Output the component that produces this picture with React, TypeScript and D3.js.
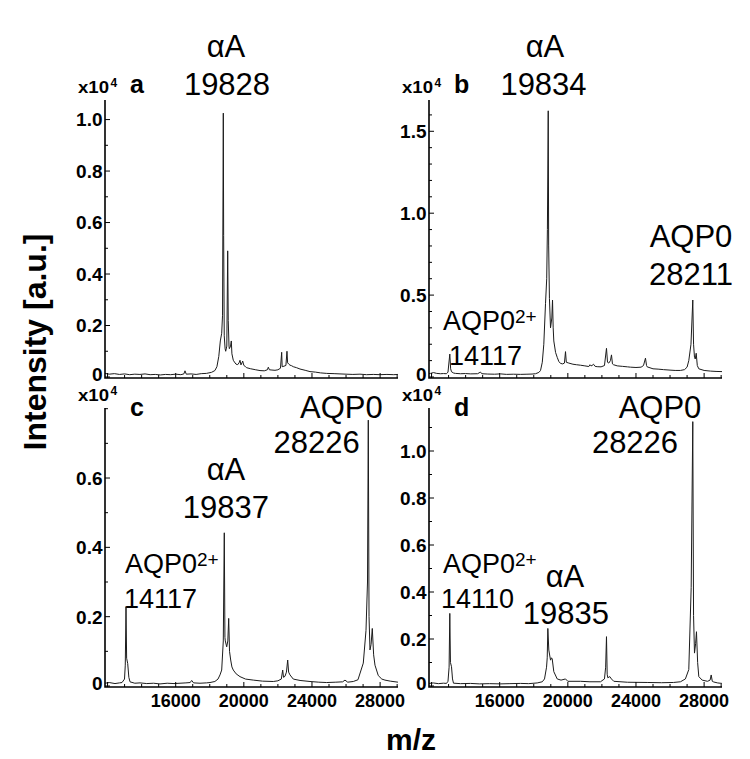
import React, { useEffect, useRef } from "react";
import * as d3 from "d3";

type Pt = [number, number];

// spectra: [m/z, intensity in units of 1e4]
const spectrumA: Pt[] = [
  [11850, 0.014], [12100, 0.011], [12400, 0.013], [12700, 0.010], [13000, 0.012], [13300, 0.009],
  [13600, 0.011], [13900, 0.010], [14200, 0.012], [14500, 0.009], [14800, 0.010], [15100, 0.008],
  [15400, 0.010], [15700, 0.009], [16000, 0.011], [16300, 0.009], [16480, 0.012], [16546, 0.024],
  [16620, 0.011], [16900, 0.012], [17200, 0.010], [17500, 0.013], [17800, 0.014], [18100, 0.018],
  [18300, 0.025], [18420, 0.04], [18530, 0.08], [18620, 0.14], [18700, 0.17], [18750, 0.24],
  [18795, 1.025], [18815, 0.55], [18850, 0.16], [18900, 0.11], [18935, 0.10], [19000, 0.12],
  [19053, 0.49], [19085, 0.22], [19130, 0.12], [19150, 0.11], [19220, 0.12], [19264, 0.14],
  [19300, 0.09], [19381, 0.065], [19450, 0.058], [19540, 0.05], [19640, 0.048], [19720, 0.055],
  [19775, 0.065], [19830, 0.047], [19890, 0.055], [19933, 0.062], [20000, 0.045], [20100, 0.04],
  [20168, 0.036], [20400, 0.032], [20700, 0.028], [20950, 0.025], [21200, 0.024], [21380, 0.028],
  [21437, 0.038], [21500, 0.028], [21650, 0.027], [21829, 0.026], [22000, 0.028], [22150, 0.034],
  [22222, 0.096], [22250, 0.04], [22357, 0.042], [22470, 0.045], [22533, 0.10], [22570, 0.055],
  [22640, 0.05], [22710, 0.046], [22800, 0.044], [22903, 0.04], [23100, 0.036], [23297, 0.031],
  [23600, 0.026], [23884, 0.021], [24200, 0.019], [24500, 0.016], [24864, 0.014], [25300, 0.013],
  [25645, 0.012], [26000, 0.011], [26400, 0.010], [26819, 0.011], [27200, 0.009], [27600, 0.010],
  [27993, 0.009], [28400, 0.010], [28800, 0.009], [29049, 0.010],
];

const spectrumB: Pt[] = [
  [11850, 0.02], [11938, 0.022], [12114, 0.027], [12300, 0.022], [12525, 0.02], [12700, 0.021],
  [12877, 0.02], [12965, 0.03], [13071, 0.14], [13120, 0.05], [13171, 0.032], [13300, 0.024],
  [13406, 0.022], [13700, 0.02], [13993, 0.021], [14300, 0.019], [14700, 0.02], [14873, 0.03],
  [14950, 0.02], [15300, 0.018], [15700, 0.017], [16047, 0.019], [16400, 0.016], [16800, 0.017],
  [17221, 0.016], [17600, 0.017], [17900, 0.018], [18104, 0.02], [18300, 0.028], [18398, 0.04],
  [18500, 0.09], [18589, 0.2], [18690, 0.45], [18760, 0.6], [18800, 0.9], [18849, 1.625],
  [18875, 0.8], [18920, 0.48], [18984, 0.30], [19060, 0.36], [19101, 0.47], [19140, 0.3],
  [19176, 0.22], [19280, 0.15], [19376, 0.12], [19470, 0.095], [19569, 0.083], [19700, 0.08],
  [19800, 0.085], [19863, 0.155], [19910, 0.09], [20056, 0.085], [20300, 0.078], [20500, 0.075],
  [20743, 0.072], [21000, 0.068], [21231, 0.064], [21300, 0.075], [21359, 0.068], [21420, 0.07],
  [21506, 0.078], [21600, 0.065], [21723, 0.063], [21950, 0.062], [22150, 0.07], [22269, 0.175],
  [22330, 0.09], [22404, 0.085], [22500, 0.1], [22563, 0.135], [22620, 0.08], [22680, 0.075],
  [22900, 0.068], [23200, 0.065], [23500, 0.062], [23678, 0.06], [24000, 0.058], [24300, 0.06],
  [24441, 0.07], [24558, 0.115], [24620, 0.07], [24658, 0.062], [25000, 0.05], [25300, 0.048],
  [25615, 0.045], [26000, 0.042], [26300, 0.04], [26613, 0.04], [26850, 0.045], [27000, 0.06],
  [27100, 0.1], [27229, 0.2], [27335, 0.47], [27380, 0.2], [27435, 0.12], [27480, 0.11],
  [27535, 0.145], [27600, 0.07], [27688, 0.05], [28000, 0.04], [28375, 0.036], [28700, 0.034],
  [29050, 0.033],
];

const spectrumC: Pt[] = [
  [11850, 0.008], [12100, 0.01], [12437, 0.007], [12700, 0.009], [12848, 0.01], [12995, 0.02],
  [13040, 0.06], [13083, 0.229], [13120, 0.08], [13182, 0.065], [13250, 0.025], [13318, 0.012],
  [13600, 0.008], [13905, 0.009], [14300, 0.007], [14700, 0.008], [15079, 0.006], [15500, 0.008],
  [15900, 0.007], [16253, 0.008], [16600, 0.009], [16850, 0.01], [16939, 0.016], [17050, 0.009],
  [17427, 0.008], [17800, 0.009], [18014, 0.01], [18300, 0.013], [18483, 0.02], [18600, 0.032],
  [18700, 0.046], [18794, 0.13], [18853, 0.442], [18890, 0.14], [18912, 0.13], [18994, 0.113],
  [19060, 0.13], [19111, 0.195], [19160, 0.1], [19229, 0.075], [19300, 0.055], [19381, 0.046],
  [19550, 0.035], [19775, 0.027], [20100, 0.02], [20555, 0.017], [21100, 0.014], [21729, 0.013],
  [22000, 0.015], [22200, 0.02], [22281, 0.046], [22330, 0.025], [22416, 0.028], [22500, 0.04],
  [22575, 0.075], [22630, 0.04], [22710, 0.032], [22903, 0.02], [23300, 0.016], [23884, 0.013],
  [24400, 0.011], [24864, 0.01], [25400, 0.011], [25800, 0.012], [25938, 0.017], [26100, 0.011],
  [26425, 0.013], [26700, 0.018], [27012, 0.066], [27171, 0.16], [27260, 0.3], [27306, 0.767],
  [27350, 0.2], [27406, 0.104], [27470, 0.12], [27541, 0.166], [27620, 0.09], [27699, 0.06],
  [27893, 0.03], [28100, 0.02], [28285, 0.017], [28600, 0.014], [29049, 0.011],
];

const spectrumD: Pt[] = [
  [11850, 0.011], [12100, 0.013], [12400, 0.01], [12700, 0.012], [12877, 0.011], [12965, 0.02],
  [13030, 0.08], [13071, 0.309], [13110, 0.1], [13171, 0.082], [13230, 0.03], [13288, 0.012],
  [13700, 0.01], [14286, 0.011], [14800, 0.009], [15400, 0.01], [16047, 0.009], [16600, 0.01],
  [17221, 0.011], [17700, 0.01], [18200, 0.013], [18500, 0.018], [18631, 0.03], [18750, 0.08],
  [18790, 0.12], [18826, 0.245], [18884, 0.153], [18984, 0.11], [19040, 0.12], [19084, 0.115],
  [19176, 0.061], [19376, 0.03], [19600, 0.025], [19863, 0.03], [20000, 0.02], [20743, 0.02],
  [21300, 0.018], [21917, 0.018], [22150, 0.03], [22220, 0.08], [22269, 0.21], [22310, 0.05],
  [22346, 0.035], [22463, 0.04], [22560, 0.03], [22698, 0.02], [23500, 0.016], [24658, 0.015],
  [25500, 0.014], [26200, 0.015], [26613, 0.018], [26900, 0.03], [27100, 0.07], [27241, 0.42],
  [27335, 1.125], [27380, 0.3], [27435, 0.14], [27500, 0.18], [27552, 0.231], [27620, 0.1],
  [27688, 0.04], [27887, 0.025], [28200, 0.02], [28350, 0.025], [28416, 0.047], [28480, 0.02],
  [28569, 0.017], [28800, 0.013], [29049, 0.011],
];

const xTickLabels = [16000, 20000, 24000, 28000];
const yTicksA = [0, 0.2, 0.4, 0.6, 0.8, 1.0];
const yTicksB = [0, 0.5, 1.0, 1.5];
const yTicksC = [0, 0.2, 0.4, 0.6];
const yTicksD = [0, 0.2, 0.4, 0.6, 0.8, 1.0];

const peakTextA = ["αA", "19828"];
const peakTextB = ["αA", "19834", "AQP0", "28211", "AQP0", "14117"];
const peakTextC = ["AQP0", "28226", "αA", "19837", "AQP0", "14117"];
const peakTextD = ["AQP0", "28226", "AQP0", "14110", "αA", "19835"];

const mzDomain = [11850, 29050];
const FONT = "'Liberation Sans', Arial, Helvetica, sans-serif";

type Lbl = { x: number; y: number; anchor?: string; size?: number; sup?: string };

const panels = [
  {
    letter: "a", data: spectrumA, yTicks: yTicksA, yMax: 1.076, texts: peakTextA,
    left: 105, right: 398, top: 100, bottom: 378, showX: false,
    labels: [{ x: 226, y: 57 }, { x: 227, y: 95 }] as Lbl[],
  },
  {
    letter: "b", data: spectrumB, yTicks: yTicksB, yMax: 1.691, texts: peakTextB,
    left: 429, right: 722, top: 100, bottom: 378, showX: false,
    labels: [
      { x: 545, y: 57 }, { x: 543.5, y: 95 }, { x: 691, y: 246.5 }, { x: 691, y: 285 },
      { x: 443, y: 330, anchor: "start", size: 27, sup: "2+" }, { x: 449, y: 365, anchor: "start", size: 27 },
    ] as Lbl[],
  },
  {
    letter: "c", data: spectrumC, yTicks: yTicksC, yMax: 0.802, texts: peakTextC,
    left: 105, right: 398, top: 408, bottom: 687, showX: true,
    labels: [
      { x: 300, y: 417.7, anchor: "start" }, { x: 316.7, y: 453.3 }, { x: 226, y: 480 }, { x: 225.8, y: 518 },
      { x: 125, y: 573.3, anchor: "start", size: 27, sup: "2+" }, { x: 124, y: 608.3, anchor: "start", size: 27 },
    ] as Lbl[],
  },
  {
    letter: "d", data: spectrumD, yTicks: yTicksD, yMax: 1.183, texts: peakTextD,
    left: 429, right: 722, top: 408, bottom: 687, showX: true,
    labels: [
      { x: 660, y: 417.7 }, { x: 635, y: 453.3 },
      { x: 443, y: 573.3, anchor: "start", size: 27, sup: "2+" }, { x: 441, y: 608.3, anchor: "start", size: 27 },
      { x: 565, y: 586.7 }, { x: 565.8, y: 624 },
    ] as Lbl[],
  },
];

function drawPanel(svg: any, p: any) {
  const x = d3.scaleLinear().domain(mzDomain).range([p.left, p.right]);
  const y = d3.scaleLinear().domain([0, p.yMax]).range([p.bottom - 1, p.top]);
  const g = svg.append("g");

  const line = d3.line<Pt>().x(d => x(d[0])).y(d => y(d[1]));
  g.append("path")
    .datum(p.data)
    .attr("d", line)
    .attr("fill", "none")
    .attr("stroke", "#1c1c1c")
    .attr("stroke-width", 1)
    .attr("stroke-linejoin", "round");

  // inward ticks, minor every 1000 / 0.1
  const xt = x.ticks(20);
  g.selectAll(".xt").data(xt).join("line")
    .attr("x1", (d: number) => x(d)).attr("x2", (d: number) => x(d))
    .attr("y1", p.bottom).attr("y2", (d: number) => p.bottom - (d % 4000 === 0 ? 5 : 3))
    .attr("stroke", "#000").attr("stroke-width", 1);

  const yt = y.ticks(Math.floor(p.yMax * 10));
  g.selectAll(".yt").data(yt).join("line")
    .attr("x1", p.left).attr("x2", (d: number) => p.left + (p.yTicks.some((t: number) => Math.abs(t - d) < 1e-6) ? 5 : 3))
    .attr("y1", (d: number) => y(d)).attr("y2", (d: number) => y(d))
    .attr("stroke", "#000").attr("stroke-width", 1);

  // axis lines
  g.append("path")
    .attr("d", `M${p.left},${p.top}V${p.bottom}H${p.right}`)
    .attr("fill", "none").attr("stroke", "#000").attr("stroke-width", 1.6);

  g.selectAll(".yl").data(p.yTicks).join("text")
    .attr("x", p.left - 2.5)
    .attr("y", (d: number) => y(d) - (d === 0 ? 3 : 0))
    .attr("dy", "0.36em")
    .attr("text-anchor", "end")
    .attr("font-size", 19).attr("font-weight", "bold").attr("font-family", FONT)
    .text((d: number) => (d === 0 ? "0" : d3.format(".1f")(d)));

  if (p.showX) {
    g.selectAll(".xl").data(xTickLabels).join("text")
      .attr("x", (d: number) => x(d))
      .attr("y", p.bottom + 20)
      .attr("text-anchor", "middle")
      .attr("font-size", 18).attr("font-weight", "bold").attr("font-family", FONT)
      .text((d: number) => String(d));
  }

  // x10^4 multiplier
  const mult = g.append("text")
    .attr("x", p.left - 27).attr("y", p.top - 7)
    .attr("font-size", 16).attr("font-weight", "bold").attr("font-family", FONT);
  mult.append("tspan").attr("textLength", 31).attr("lengthAdjust", "spacingAndGlyphs").text("x10");
  mult.append("tspan").attr("font-size", 12).attr("dx", 1.5).attr("dy", -6).text("4");

  g.append("text")
    .attr("x", p.left + 25).attr("y", p.top - 7 + (p.showX ? 14.5 : 0))
    .attr("font-size", 25).attr("font-weight", "bold").attr("font-family", FONT)
    .text(p.letter);

  p.labels.forEach((l: Lbl, i: number) => {
    const t = g.append("text")
      .attr("x", l.x).attr("y", l.y)
      .attr("text-anchor", l.anchor ?? "middle")
      .attr("font-size", l.size ?? 31)
      .attr("font-family", FONT)
      .attr("fill", "#000")
      .text(p.texts[i]);
    if (l.sup) t.append("tspan").attr("font-size", 19).attr("dy", -7).text(l.sup);
  });
}

export default function App() {
  const ref = useRef<SVGSVGElement>(null);

  useEffect(() => {
    const svg = d3.select(ref.current);
    svg.selectAll("*").remove();
    panels.forEach(p => drawPanel(svg, p));

    svg.append("text")
      .attr("transform", "translate(46,342) rotate(-90)")
      .attr("text-anchor", "middle")
      .attr("font-size", 32).attr("font-weight", "bold").attr("font-family", FONT)
      .text("Intensity [a.u.]");

    svg.append("text")
      .attr("x", 411).attr("y", 750)
      .attr("text-anchor", "middle")
      .attr("font-size", 30).attr("font-weight", "bold").attr("font-family", FONT)
      .text("m/z");
  }, []);

  return (
    <svg
      ref={ref}
      width={750}
      height={759}
      style={{ position: "absolute", left: 0, top: 0, background: "#fff" }}
    />
  );
}
